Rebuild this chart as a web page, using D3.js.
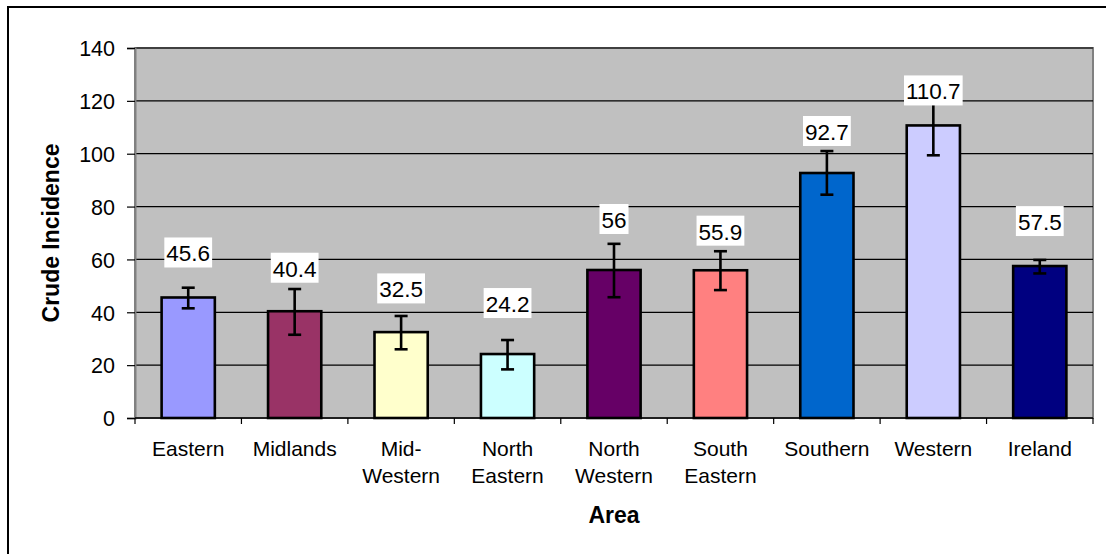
<!DOCTYPE html>
<html>
<head>
<meta charset="utf-8">
<script src="https://cdn.jsdelivr.net/npm/d3@7/dist/d3.min.js"></script>
<style>
  html, body { margin: 0; padding: 0; background: #fff; }
  svg { display: block; font-family: Arial, "Liberation Sans", sans-serif; }
</style>
</head>
<body>
<svg id="chart" width="1106" height="554"></svg>
<script>
// ---------- data ----------
const categories = ["Eastern", "Midlands", "Mid-Western", "North Eastern", "North Western",
                    "South Eastern", "Southern", "Western", "Ireland"];
const categoryLines = [["Eastern"], ["Midlands"], ["Mid-", "Western"], ["North", "Eastern"],
                       ["North", "Western"], ["South", "Eastern"], ["Southern"], ["Western"], ["Ireland"]];
const incidence = [45.6, 40.4, 32.5, 24.2, 56, 55.9, 92.7, 110.7, 57.5];
const lowerCI   = [41.5, 31.5, 26.0, 18.4, 45.7, 48.4, 84.5, 99.4, 54.7];
const upperCI   = [49.3, 48.8, 38.6, 29.5, 65.9, 63.1, 101.0, 122.0, 59.8];
const valueLabels = ["45.6", "40.4", "32.5", "24.2", "56", "55.9", "92.7", "110.7", "57.5"];
const yTicks = [0, 20, 40, 60, 80, 100, 120, 140];

// ---------- style ----------
const barColors = ["#9999FF", "#993366", "#FFFFCC", "#CCFFFF", "#660066",
                   "#FF8080", "#0066CC", "#CCCCFF", "#000080"];
const labelLift = [30, 28.5, 28.7, 36, 36, 24.6, 27, 20, 30]; // px gap, label box bottom above bar top

const plot = { left: 135, right: 1093, top: 48, bottom: 418 };

const svg = d3.select("#chart");

// outer chart frame
svg.append("rect")
  .attr("x", 8).attr("y", 7).attr("width", 1110).attr("height", 570)
  .attr("fill", "#fff").attr("stroke", "#000").attr("stroke-width", 2);

const x = d3.scaleBand().domain(categories)
  .range([plot.left, plot.right]).paddingInner(0.5).paddingOuter(0.25);
const y = d3.scaleLinear().domain([0, 140]).range([plot.bottom, plot.top]);

// plot area
svg.append("rect")
  .attr("x", plot.left).attr("y", plot.top)
  .attr("width", plot.right - plot.left).attr("height", plot.bottom - plot.top)
  .attr("fill", "#C0C0C0").attr("stroke", "#808080").attr("stroke-width", 2);

// gridlines
svg.append("g").selectAll("line").data(yTicks.filter(t => t > 0)).join("line")
  .attr("x1", plot.left).attr("x2", plot.right)
  .attr("y1", d => y(d)).attr("y2", d => y(d))
  .attr("stroke", "#000").attr("stroke-width", 1.2);

// y axis
const yAxis = svg.append("g").attr("transform", `translate(${plot.left},0)`)
  .call(d3.axisLeft(y).tickValues(yTicks).tickSize(8).tickPadding(12).tickFormat(d3.format("d")));
yAxis.select(".domain").attr("stroke", "#808080").attr("stroke-width", 2);
yAxis.selectAll(".tick line").attr("stroke", "#000").attr("stroke-width", 1.2);
yAxis.selectAll(".tick text").attr("font-size", 21.5).attr("fill", "#000")
  .attr("font-family", "Arial, 'Liberation Sans', sans-serif").attr("dy", "0.36em");

// bars
const gap = (x.step() - x.bandwidth()) / 2;
svg.append("g").selectAll("rect").data(categories).join("rect")
  .attr("x", d => x(d)).attr("width", x.bandwidth())
  .attr("y", (d, i) => y(incidence[i]))
  .attr("height", (d, i) => y(0) - y(incidence[i]))
  .attr("fill", (d, i) => barColors[i])
  .attr("stroke", "#000").attr("stroke-width", 2.6);

// x axis line and boundary ticks
svg.append("line")
  .attr("x1", plot.left).attr("x2", plot.right)
  .attr("y1", y(0)).attr("y2", y(0))
  .attr("stroke", "#000").attr("stroke-width", 1.5);
const boundaries = categories.map(c => x(c) - gap).concat([x(categories[categories.length - 1]) + x.bandwidth() + gap]);
svg.append("g").selectAll("line").data(boundaries).join("line")
  .attr("x1", d => d).attr("x2", d => d)
  .attr("y1", y(0)).attr("y2", y(0) + 6)
  .attr("stroke", "#000").attr("stroke-width", 1.2);

// error bars
const eb = svg.append("g").attr("stroke", "#000").attr("stroke-width", 2.6);
categories.forEach((c, i) => {
  const cx = x(c) + x.bandwidth() / 2;
  eb.append("line").attr("x1", cx).attr("x2", cx).attr("y1", y(lowerCI[i])).attr("y2", y(upperCI[i]));
  [lowerCI[i], upperCI[i]].forEach(v => {
    eb.append("line").attr("x1", cx - 6.5).attr("x2", cx + 6.5).attr("y1", y(v)).attr("y2", y(v));
  });
});

// value labels with white boxes
const lg = svg.append("g");
categories.forEach((c, i) => {
  const cx = x(c) + x.bandwidth() / 2;
  const boxBottom = y(incidence[i]) - labelLift[i];
  const g = lg.append("g");
  const t = g.append("text")
    .attr("x", cx).attr("y", boxBottom - 6)
    .attr("text-anchor", "middle").attr("font-size", 22.5).attr("fill", "#000")
    .text(valueLabels[i]);
  const w = t.node().getComputedTextLength();
  g.insert("rect", "text")
    .attr("x", cx - w / 2 - 2).attr("y", boxBottom - 30)
    .attr("width", w + 4).attr("height", 30).attr("fill", "#fff");
});

// category labels
const cl = svg.append("g");
categories.forEach((c, i) => {
  const cx = x(c) + x.bandwidth() / 2;
  const t = cl.append("text").attr("text-anchor", "middle").attr("font-size", 21).attr("fill", "#000");
  categoryLines[i].forEach((ln, j) => {
    t.append("tspan").attr("x", cx).attr("y", 456 + j * 27).text(ln);
  });
});

// axis titles
svg.append("text")
  .attr("x", (plot.left + plot.right) / 2).attr("y", 523)
  .attr("text-anchor", "middle").attr("font-size", 23).attr("font-weight", "bold")
  .text("Area");
svg.append("text")
  .attr("transform", `translate(59,${(plot.top + plot.bottom) / 2}) rotate(-90)`)
  .attr("text-anchor", "middle").attr("font-size", 23).attr("font-weight", "bold")
  .text("Crude Incidence");
</script>
</body>
</html>
